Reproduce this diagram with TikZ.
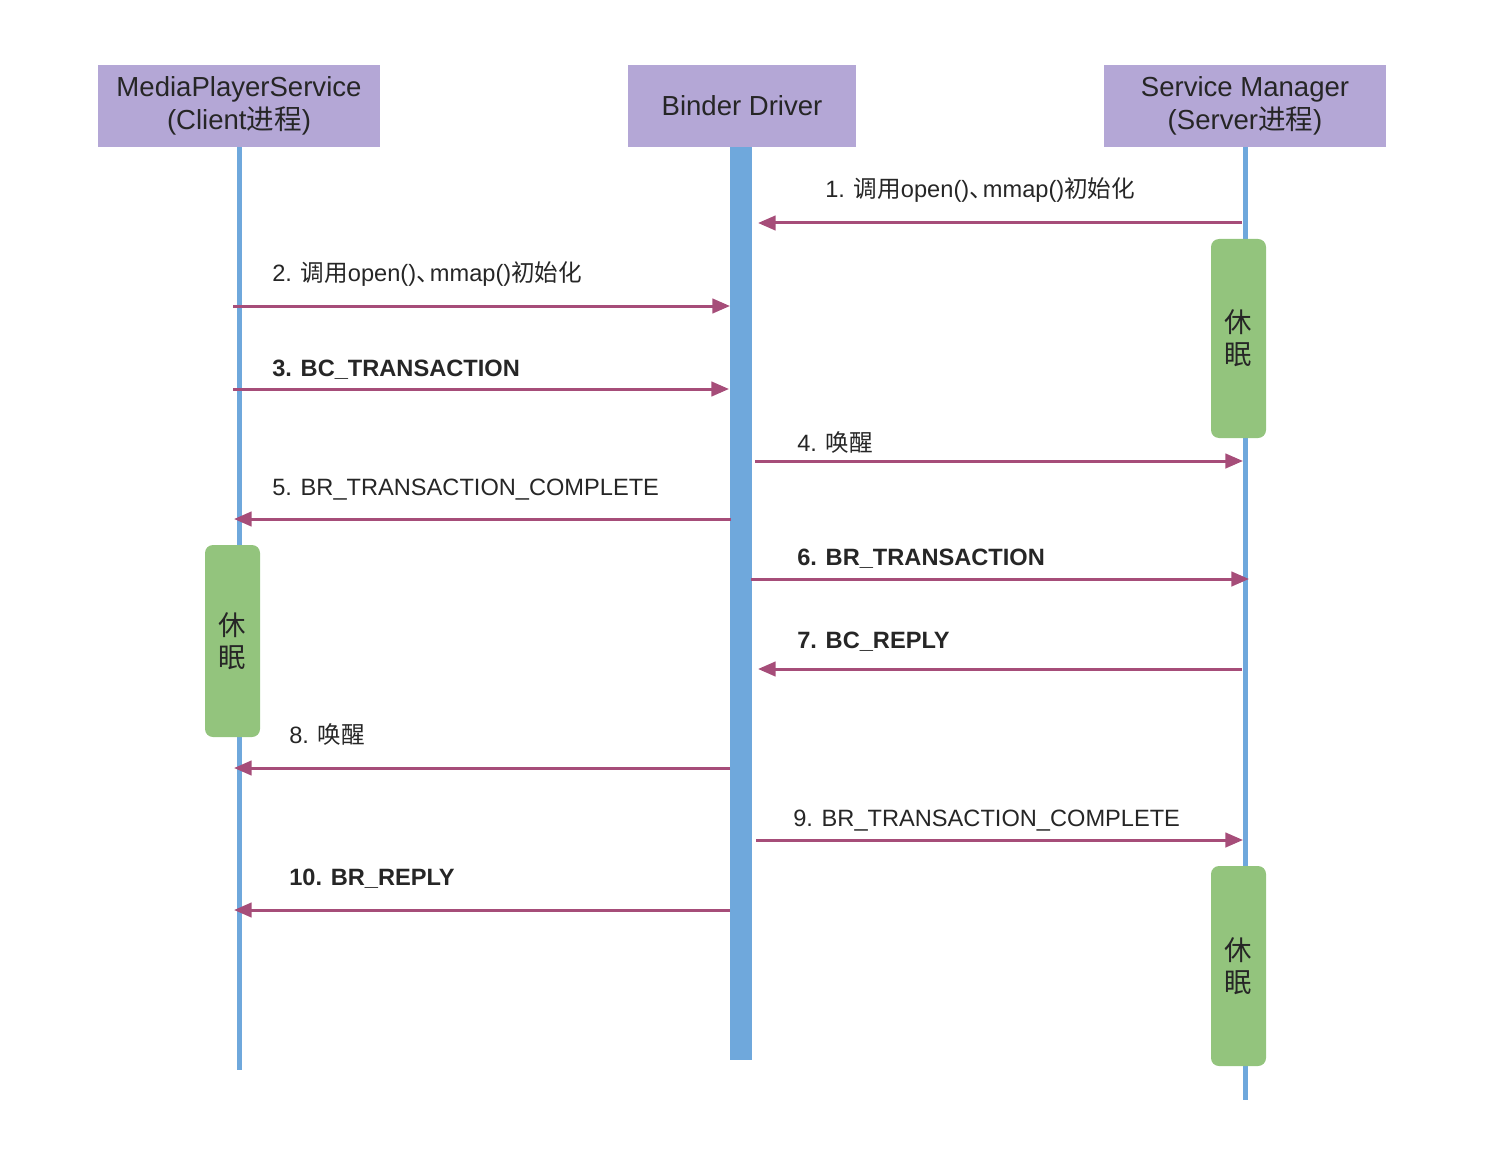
\documentclass[tikz,border=0pt]{standalone}
\usepackage{fontspec}
\setmainfont{Liberation Sans}
\newfontfamily\cjk{Noto Sans CJK SC}
\newcommand{\zh}[1]{{\cjk #1}}
\newcommand{\dun}{{\cjk 、}\kern-0.42em}
\usetikzlibrary{arrows.meta}
\definecolor{headpurple}{HTML}{B4A7D6}
\definecolor{lifeblue}{HTML}{6FA8DC}
\definecolor{sleepgreen}{HTML}{93C47D}
\definecolor{msgpink}{HTML}{A64D79}

\begin{document}
\begin{tikzpicture}[x=0.25mm,y=-0.25mm]
							\tikzstyle{head}=[fill=headpurple,minimum height=20.5mm,inner sep=0pt,align=center,text=black!85,font=\fontsize{19.6}{23.5}\selectfont]
							\tikzstyle{life}=[draw=lifeblue,line width=1.25mm]
							\tikzstyle{sleep}=[fill=sleepgreen,rounded corners=2mm,minimum width=13.75mm,inner sep=0pt,align=center,text=black!85,font=\fontsize{19.5}{23}\selectfont\cjk]
							\tikzstyle{msg}=[draw=msgpink,line width=0.75mm,-{Triangle[length=4.4mm,width=3.6mm]}]
							\tikzstyle{lbl}=[anchor=base west,inner sep=0pt,text=black!85,font=\fontsize{16.8}{20}\selectfont]
							\useasboundingbox (0,0) rectangle (1496,1150);
							\node[head,minimum width=70.5mm] (client) at (239,106) {MediaPlayerService\\(Client\zh{进程})};
							\node[head,minimum width=57mm] (binder) at (742,106) {Binder Driver};
							\node[head,minimum width=70.5mm] (server) at (1245,106) {Service Manager\\(Server\zh{进程})};
							\coordinate (cend) at (239,1070);
							\coordinate (send) at (1245,1100);
							\draw[life] (client.south) -- (cend);
							\draw[life] (server.south) -- (send);
							\fill[lifeblue] (730,147) rectangle (752,1060);
							\node[sleep,minimum height=49.75mm] (s1) at (1238.5,338.5) {休\\眠};
							\node[sleep,minimum height=48mm] (s2) at (232.5,641) {休\\眠};
							\node[sleep,minimum height=50mm] (s3) at (1238.5,966) {休\\眠};
							\coordinate (a1) at (1242,223);
							\coordinate (b1) at (758,223);
							\coordinate (a2) at (233,306);
							\coordinate (b2) at (730,306);
							\coordinate (a3) at (233,389);
							\coordinate (b3) at (729,389);
							\coordinate (a4) at (755,461);
							\coordinate (b4) at (1243,461);
							\coordinate (a5) at (731,519);
							\coordinate (b5) at (234,519);
							\coordinate (a6) at (751,579);
							\coordinate (b6) at (1249,579);
							\coordinate (a7) at (1242,669);
							\coordinate (b7) at (758,669);
							\coordinate (a8) at (730,768);
							\coordinate (b8) at (234,768);
							\coordinate (a9) at (756,840);
							\coordinate (b9) at (1243,840);
							\coordinate (a10) at (730,910);
							\coordinate (b10) at (234,910);
							\draw[msg] (a1) -- (b1);
							\draw[msg] (a2) -- (b2);
							\draw[msg] (a3) -- (b3);
							\draw[msg] (a4) -- (b4);
							\draw[msg] (a5) -- (b5);
							\draw[msg] (a6) -- (b6);
							\draw[msg] (a7) -- (b7);
							\draw[msg] (a8) -- (b8);
							\draw[msg] (a9) -- (b9);
							\draw[msg] (a10) -- (b10);
							\node[lbl] (l1) at (825,198) {1. \zh{调用}open()\dun mmap()\zh{初始化}};
							\node[lbl] (l2) at (272,281) {2. \zh{调用}open()\dun mmap()\zh{初始化}};
							\node[lbl,font=\fontsize{16.8}{20}\selectfont\bfseries] (l3) at (272,376) {3. BC\_TRANSACTION};
							\node[lbl] (l4) at (797,451) {4. \zh{唤醒}};
							\node[lbl] (l5) at (272,495) {5. BR\_TRANSACTION\_COMPLETE};
							\node[lbl,font=\fontsize{16.8}{20}\selectfont\bfseries] (l6) at (797,565) {6. BR\_TRANSACTION};
							\node[lbl,font=\fontsize{16.8}{20}\selectfont\bfseries] (l7) at (797,648) {7. BC\_REPLY};
							\node[lbl] (l8) at (289,743) {8. \zh{唤醒}};
							\node[lbl] (l9) at (793,826) {9. BR\_TRANSACTION\_COMPLETE};
							\node[lbl,font=\fontsize{16.8}{20}\selectfont\bfseries] (l10) at (289,885) {10. BR\_REPLY};
							\end{tikzpicture}
\end{document}
